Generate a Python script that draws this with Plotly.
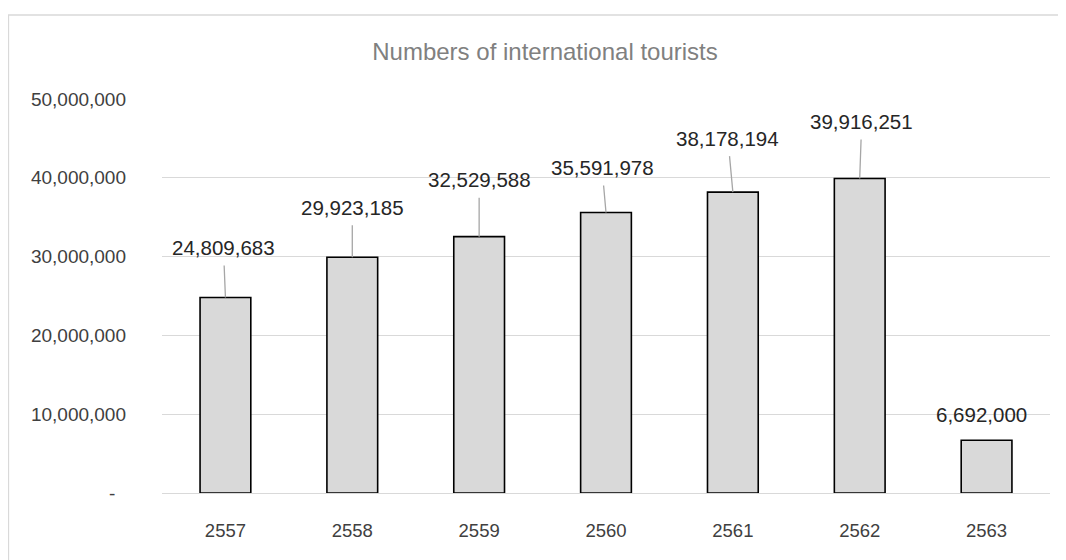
import plotly.graph_objects as go

years = ["2557", "2558", "2559", "2560", "2561", "2562", "2563"]
tourists = [24809683, 29923185, 32529588, 35591978, 38178194, 39916251, 6692000]
label_dx = [-2, 0, 0, -4, -5, 2, -5]
label_dy = [-50, -50, -57, -45, -54, -57, -26]
show_leader = [True, True, True, True, True, True, False]
y_ticks = [0, 10000000, 20000000, 30000000, 40000000, 50000000]
y_ticktext = ["-\u00a0\u00a0", "10,000,000", "20,000,000", "30,000,000", "40,000,000", "50,000,000"]

FONT = "Liberation Sans, Arial, sans-serif"
W, H = 1066, 560
L, R, T, B = 154, 24, 91, 75
PW, PH = W - L - R, H - T - B

fig = go.Figure(go.Bar(
    x=years, y=tourists, width=0.4,
    marker=dict(color="#d9d9d9", line=dict(color="#000000", width=1.6)),
))

for i, (v, dx, dy, lead) in enumerate(zip(tourists, label_dx, label_dy, show_leader)):
    fig.add_annotation(
        x=i, y=v, text=f"{v:,}", showarrow=True, ax=dx, ay=dy,
        arrowhead=0, arrowwidth=1.3,
        arrowcolor="#a6a6a6" if lead else "rgba(0,0,0,0)",
        borderpad=6,
        font=dict(family=FONT, size=20.5, color="#262626"),
    )

# chart border
fig.add_shape(type="rect", xref="paper", yref="paper",
              x0=(0.5 - L) / PW, x1=(1090 - L) / PW,
              y0=(H - B - 580) / PH, y1=(H - B - 7) / PH,
              line=dict(color="#d9d9d9", width=1.3), fillcolor="rgba(0,0,0,0)", layer="below")

fig.update_layout(
    width=W, height=H,
    margin=dict(l=L, r=R, t=T, b=B, pad=0),
    plot_bgcolor="white", paper_bgcolor="white",
    showlegend=False,
    title=dict(text="Numbers of international tourists", xref="container", yref="container",
               x=537 / W, y=1 - 44 / H, xanchor="center", yanchor="middle",
               font=dict(family=FONT, size=24, color="#808080")),
    xaxis=dict(type="category", range=[-0.5, len(years) - 0.5], autorange=False,
               showgrid=False, showline=False, zeroline=False, ticks="",
               tickfont=dict(family=FONT, size=18.5, color="#404040"),
               ticklabelstandoff=24),
    yaxis=dict(range=[0, 50000000], autorange=False, tickvals=y_ticks, ticktext=y_ticktext,
               showgrid=True, gridcolor="#d9d9d9", gridwidth=1.3,
               zeroline=True, zerolinecolor="#d9d9d9", zerolinewidth=1.3,
               showline=False, ticks="",
               tickfont=dict(family=FONT, size=19, color="#404040"),
               ticklabelstandoff=35),
)

fig.write_html("out.html")
